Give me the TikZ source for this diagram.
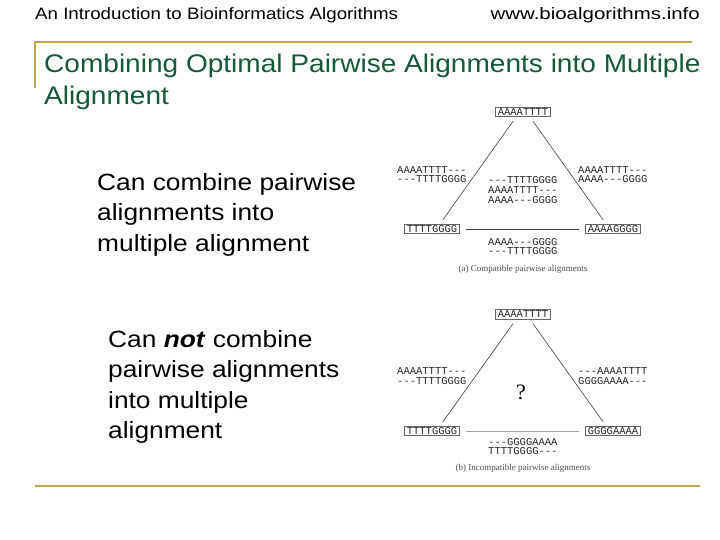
\documentclass[tikz,border=0pt]{standalone}
\usepackage{fontspec}
\setmainfont{Liberation Sans}[FakeStretch=1.12]
\newfontfamily\headfont{Liberation Sans}[FakeStretch=1.134]
\newfontfamily\sitefont{Liberation Sans}[FakeStretch=1.24]
\newfontfamily\titlefont{Liberation Sans}[FakeStretch=1.1]
\newfontfamily\seqfont{Liberation Mono}
\newfontfamily\capfont{Liberation Serif}
\usetikzlibrary{positioning}
\definecolor{titlegreen}{HTML}{17583A}
\definecolor{rulegold}{HTML}{C4A54E}
\tikzset{
  headtext/.style={inner sep=0pt,font=\headfont\fontsize{16.5}{18}\selectfont},
  sitetext/.style={headtext,font=\sitefont\fontsize{16.5}{18}\selectfont},
  titletext/.style={inner sep=0pt,anchor=north west,align=left,text=titlegreen,font=\titlefont\fontsize{25.5}{32}\selectfont},
  bodytext/.style={inner sep=0pt,anchor=north west,align=left,font=\fontsize{23.5}{30.5}\selectfont},
  seqbox/.style={draw=black!60,line width=0.7pt,inner xsep=2.5pt,inner ysep=1.2pt,text=black!85,font=\seqfont\fontsize{10.5}{10}\selectfont},
  seqtext/.style={inner sep=0pt,align=left,text=black!85,font=\seqfont\fontsize{10.5}{9.6}\selectfont},
  treeedge/.style={black!75,line width=0.6pt,shorten <=5pt,shorten >=5pt},
  flatedge/.style={treeedge,shorten <=6pt,shorten >=6pt},
  captext/.style={inner sep=0pt,text=black!70,font=\capfont\fontsize{9}{10}\selectfont},
  goldrule/.style={rulegold,line width=1.6pt},
}

\begin{document}
\begin{tikzpicture}[x=1pt,y=-1pt]
  \useasboundingbox (0,0) rectangle (720,540);
  % header
  \node[headtext,anchor=west] (course) at (35,15) {An Introduction to Bioinformatics Algorithms};
  \node[sitetext,anchor=east] (site) at (700,15) {www.bioalgorithms.info};
  % rules
  \coordinate (ruleTL) at (35,42);
  \coordinate (ruleTR) at (692,42);
  \coordinate (ruleVB) at (35,88);
  \coordinate (ruleBL) at (35,486);
  \coordinate (ruleBR) at (700,486);
  \draw[goldrule] (ruleVB) -- (ruleTL) -- (ruleTR);
  \draw[goldrule] (ruleBL) -- (ruleBR);
  % title and text
  \node[titletext] (title) at (44,54) {Combining Optimal Pairwise Alignments into Multiple\\Alignment};
  \node[bodytext] (canA) at (97,173) {Can combine pairwise\\alignments into\\multiple alignment};
  \node[bodytext] (canB) at (108,330) {Can \textbf{\textit{not}} combine\\pairwise alignments\\into multiple\\alignment};

  % (a) compatible
  \node[seqbox] (topA) at (523,112) {AAAATTTT};
  \node[seqbox] (leftA) at (432,229) {TTTTGGGG};
  \node[seqbox] (rightA) at (613,229) {AAAAGGGG};
  \draw[treeedge] ([xshift=-7pt]topA.south) -- ([xshift=8pt]leftA.north);
  \draw[treeedge] ([xshift=7pt]topA.south) -- ([xshift=-7pt]rightA.north);
  \draw[flatedge] (leftA.east) -- (rightA.west);
  \node[seqtext,anchor=west] (lblLA) at (397,174.5) {AAAATTTT---\\---TTTTGGGG};
  \node[seqtext,anchor=west] (lblRA) at (578,174.5) {AAAATTTT---\\AAAA---GGGG};
  \node[seqtext,anchor=west] (lblMA) at (488,190) {---TTTTGGGG\\AAAATTTT---\\AAAA---GGGG};
  \node[seqtext,anchor=west] (lblBA) at (488,246.5) {AAAA---GGGG\\---TTTTGGGG};
  \node[captext] (capA) at (523,269) {(a) Compatible pairwise alignments};

  % (b) incompatible
  \node[seqbox] (topB) at (523,314.5) {AAAATTTT};
  \node[seqbox] (leftB) at (432,431) {TTTTGGGG};
  \node[seqbox] (rightB) at (613,431) {GGGGAAAA};
  \draw[treeedge] ([xshift=-7pt]topB.south) -- ([xshift=8pt]leftB.north);
  \draw[treeedge] ([xshift=7pt]topB.south) -- ([xshift=-7pt]rightB.north);
  \draw[flatedge,black!35] (leftB.east) -- (rightB.west);
  \node[seqtext,anchor=west] (lblLB) at (397,376) {AAAATTTT---\\---TTTTGGGG};
  \node[seqtext,anchor=west] (lblRB) at (578,376) {---AAAATTTT\\GGGGAAAA---};
  \node[inner sep=0pt,font=\capfont\fontsize{22}{22}\selectfont] (unknown) at (521,392) {?};
  \node[seqtext,anchor=west] (lblBB) at (488,446.5) {---GGGGAAAA\\TTTTGGGG---};
  \node[captext] (capB) at (523,468) {(b) Incompatible pairwise alignments};
\end{tikzpicture}
\end{document}
